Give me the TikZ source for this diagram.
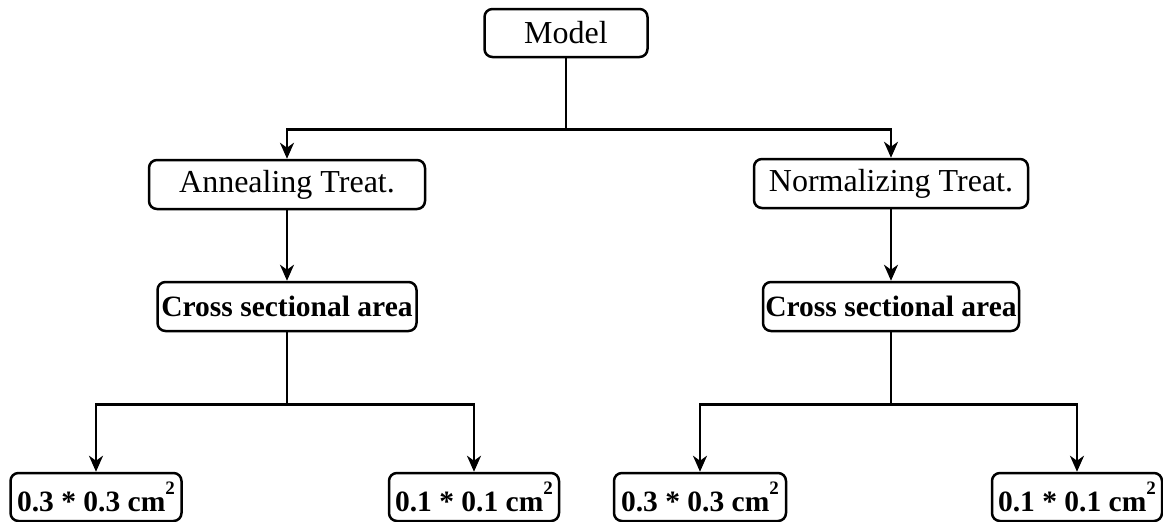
\documentclass[tikz,border=0pt]{standalone}
\usepackage{fontspec}
\setmainfont{Liberation Serif}
\usetikzlibrary{arrows.meta}
\newcommand{\sqsup}{\raisebox{0.55em}{\fontsize{19}{19}\selectfont 2}}
\tikzset{
  box/.style={draw, line width=2.5pt, rounded corners=8pt, inner sep=0pt, minimum height=48pt, align=center},
  regtext/.style={font=\fontsize{32}{37}\selectfont},
  boldtext/.style={font=\fontsize{29.5}{34}\selectfont\bfseries},
  conn/.style={line width=2.5pt},
  arr/.style={line width=2.5pt, -{Stealth[length=16pt,width=14pt,inset=5pt]}}
}
\begin{document}
\begin{tikzpicture}[x=1pt,y=-1pt]
\useasboundingbox (0,0) rectangle (1163,522);
\node[box,regtext,minimum width=163pt] (model) at (566,33) {Model};
\node[box,regtext,minimum width=276pt,minimum height=49pt] (ann) at (287,184.5) {Annealing Treat.};
\node[box,regtext,minimum width=274pt,minimum height=49pt] (norm) at (891,183.5) {Normalizing Treat.};
\node[box,boldtext,minimum width=259pt,minimum height=49pt] (crossL) at (287,306.5) {Cross sectional area};
\node[box,boldtext,minimum width=256pt,minimum height=49pt] (crossR) at (891,306.5) {Cross sectional area};
\node[box,boldtext,minimum width=171pt] (b1) at (96,497) {0.3 * 0.3 cm\sqsup};
\node[box,boldtext,minimum width=170pt] (b2) at (474,497) {0.1 * 0.1 cm\sqsup};
\node[box,boldtext,minimum width=172pt] (b3) at (700,497) {0.3 * 0.3 cm\sqsup};
\node[box,boldtext,minimum width=170pt] (b4) at (1077,497) {0.1 * 0.1 cm\sqsup};
\draw[conn] (model.south) -- ++(0,71) coordinate (jt);
\draw[arr] (jt) -| (ann.north);
\draw[arr] (jt) -| (norm.north);
\draw[arr] (ann.south) -- (crossL.north);
\draw[arr] (norm.south) -- (crossR.north);
\draw[conn] (crossL.south) -- ++(0,72) coordinate (jl);
\draw[arr] (jl) -| (b1.north);
\draw[arr] (jl) -| (b2.north);
\draw[conn] (crossR.south) -- ++(0,72) coordinate (jr);
\draw[arr] (jr) -| (b3.north);
\draw[arr] (jr) -| (b4.north);
\end{tikzpicture}
\end{document}
